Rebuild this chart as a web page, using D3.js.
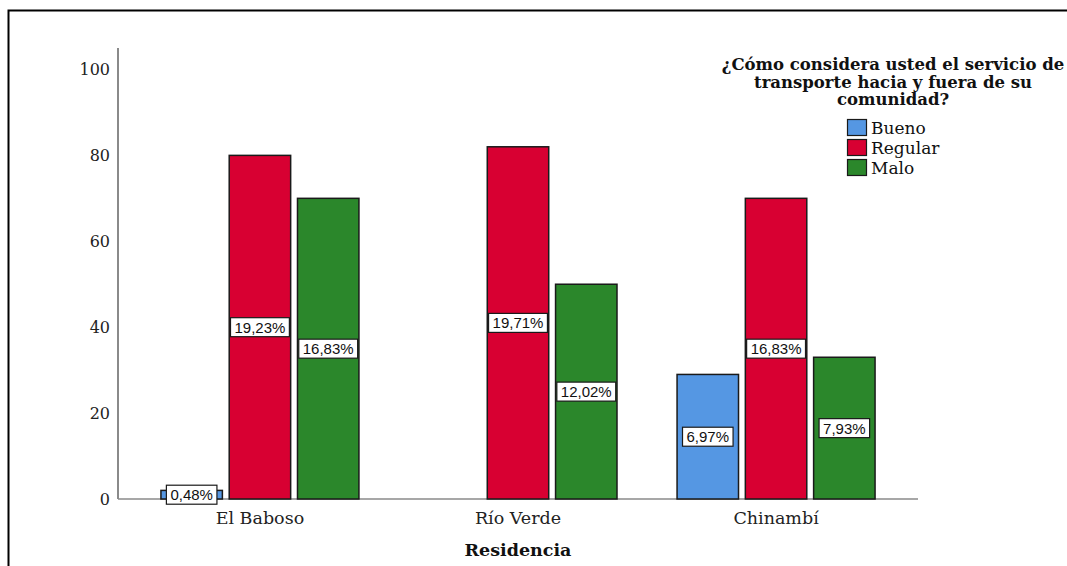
<!DOCTYPE html>
<html><head><meta charset="utf-8">
<script src="https://cdn.jsdelivr.net/npm/d3@7"></script>
<style>
html,body{margin:0;padding:0;background:#fff;}
svg{display:block;}
</style></head>
<body>
<svg id="chart" width="1067" height="566"></svg>
<script>
const categories = ["El Baboso", "Río Verde", "Chinambí"];
const seriesNames = ["Bueno", "Regular", "Malo"];
const bueno   = [2, 0, 29];
const regular = [80, 82, 70];
const malo    = [70, 50, 33];
const percentLabels = {
  "Bueno":   ["0,48%", null, "6,97%"],
  "Regular": ["19,23%", "19,71%", "16,83%"],
  "Malo":    ["16,83%", "12,02%", "7,93%"]
};
const yTicks = [0, 20, 40, 60, 80, 100];
const legendTitle = ["¿Cómo considera usted el servicio de", "transporte hacia y fuera de su", "comunidad?"];
const xTitle = "Residencia";

const colors = {"Bueno": "#5597e3", "Regular": "#d80032", "Malo": "#2b872b"};
const seriesValues = {"Bueno": bueno, "Regular": regular, "Malo": malo};

const svg = d3.select("#chart");
const serif = "'DejaVu Serif', serif";

// frame
svg.append("rect").attr("x", 8.5).attr("y", 10.5).attr("width", 1200).attr("height", 700)
  .attr("fill", "none").attr("stroke", "#000").attr("stroke-width", 2);

const x0 = 118, x1 = 918, yBottom = 499, yTop = 48;
const y = d3.scaleLinear().domain([0, 105]).range([yBottom, yTop]);
const xg = d3.scalePoint().domain(categories).range([x0, x1]).padding(0.55);
const xs = d3.scaleBand().domain(seriesNames).range([-99, 99]).paddingInner(0.1);

// axes lines
const axisColor = "#8a8a8a";
svg.append("line").attr("x1", x0).attr("x2", x0).attr("y1", yTop).attr("y2", yBottom)
  .attr("stroke", axisColor).attr("stroke-width", 2);
svg.append("line").attr("x1", x0).attr("x2", x1).attr("y1", yBottom).attr("y2", yBottom)
  .attr("stroke", axisColor).attr("stroke-width", 1.5);

// y tick labels
svg.append("g").selectAll("text").data(yTicks).join("text")
  .attr("x", 110).attr("y", d => y(d)).attr("dy", "0.35em")
  .attr("text-anchor", "end").attr("font-family", serif).attr("font-size", 16)
  .attr("fill", "#222").text(d => d);

// x category labels
svg.append("g").selectAll("text").data(categories).join("text")
  .attr("x", d => xg(d)).attr("y", 524).attr("text-anchor", "middle")
  .attr("font-family", serif).attr("font-size", 17.5).attr("fill", "#222").text(d => d);

svg.append("text").attr("x", xg(categories[1])).attr("y", 556).attr("text-anchor", "middle")
  .attr("font-family", serif).attr("font-size", 17.5).attr("font-weight", "bold").attr("fill", "#111")
  .text(xTitle);

// bars
const barData = [];
categories.forEach((c, i) => {
  seriesNames.forEach(s => {
    barData.push({cat: c, series: s, value: seriesValues[s][i], label: percentLabels[s][i]});
  });
});

const bars = svg.append("g");
bars.selectAll("rect").data(barData.filter(d => d.value > 0)).join("rect")
  .attr("x", d => xg(d.cat) + xs(d.series))
  .attr("y", d => y(d.value))
  .attr("width", xs.bandwidth())
  .attr("height", d => y(0) - y(d.value))
  .attr("fill", d => colors[d.series])
  .attr("stroke", "#1a1a1a").attr("stroke-width", 1.5);

// labels
const lg = svg.append("g");
barData.filter(d => d.value > 0 && d.label).forEach(d => {
  const cx = xg(d.cat) + xs(d.series) + xs.bandwidth() / 2;
  const cy = (y(d.value) + y(0)) / 2;
  const box = lg.append("rect");
  const t = lg.append("text").attr("x", cx).attr("y", cy).attr("dy", "0.36em").attr("text-anchor", "middle")
    .attr("font-family", "'Liberation Sans', Arial, sans-serif").attr("font-size", 15).attr("fill", "#111")
    .text(d.label);
  const w = t.node().getComputedTextLength() + 8, h = 19;
  box.attr("x", cx - w / 2).attr("y", cy - h / 2).attr("width", w).attr("height", h)
    .attr("fill", "#fff").attr("stroke", "#1a1a1a").attr("stroke-width", 1.2);
});

// legend
const legCx = 893;
svg.append("g").selectAll("text").data(legendTitle).join("text")
  .attr("x", legCx).attr("y", (d, i) => 70 + i * 17.5).attr("text-anchor", "middle")
  .attr("font-family", serif).attr("font-size", 16.5).attr("font-weight", "bold").attr("fill", "#111")
  .text(d => d);

const leg = svg.append("g").selectAll("g").data(seriesNames).join("g")
  .attr("transform", (d, i) => `translate(847, ${119 + i * 20})`);
leg.append("rect").attr("x", 0.5).attr("y", 0.5).attr("width", 19).attr("height", 16)
  .attr("fill", d => colors[d]).attr("stroke", "#1a1a1a").attr("stroke-width", 1.2);
leg.append("text").attr("x", 24).attr("y", 8.5).attr("dy", "0.36em")
  .attr("font-family", serif).attr("font-size", 17).attr("fill", "#111").text(d => d);
</script>
</body></html>
